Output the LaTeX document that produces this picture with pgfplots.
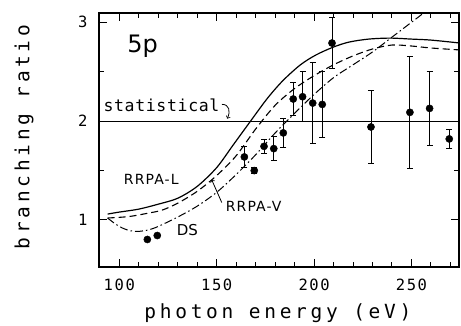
\documentclass[border=0pt]{standalone}
\usepackage{fontspec}
\setmainfont{DejaVu Sans}
\newfontfamily\lblfont[LetterSpace=19]{DejaVu Sans Mono}
\newfontfamily\tickfont[LetterSpace=10]{DejaVu Sans Mono}
\newfontfamily\statfont[LetterSpace=4]{DejaVu Sans Mono}
\newfontfamily\annfont[LetterSpace=8]{DejaVu Sans}
\usepackage{pgfplots}
\pgfplotsset{compat=1.18}
\begin{document}
\begin{tikzpicture}[x=1pt,y=1pt]
\path[use as bounding box] (0,0) rectangle (461,325);
\begin{axis}[
 at={(99pt,58pt)}, anchor=south west,
 scale only axis, width=360pt, height=254pt,
 xmin=89.58, xmax=274.4, ymin=0.5245, ymax=3.094,
 xtick={100,150,200,250}, minor xtick={90,100,...,270},
 ytick={1,2,3}, minor ytick={1.5,2.5},
 tick align=inside, major tick length=8pt, minor tick length=5pt,
 xtick pos=both, ytick pos=both,
 axis line style={line width=1.1pt},
 tick style={line width=1pt, black},
 /pgf/number format/assume math mode=true,
 ticklabel style={font=\tickfont\fontsize{15.5}{16}\selectfont},
 xticklabel style={yshift=-8pt},
 yticklabel style={xshift=-8pt},
 xlabel={photon energy (eV)}, ylabel={branching ratio},
 label style={font=\lblfont\fontsize{19.5}{20}\selectfont},
 xlabel style={at={(axis description cs:0.497,-0.181)}, anchor=center},
 ylabel style={at={(axis description cs:-0.208,0.512)}, anchor=center},
]
% statistical line
\addplot[black, line width=0.7pt] coordinates {(89.58,2) (274.4,2)};
% RRPA-L (solid)
\addplot[black, line width=1.2pt, smooth, tension=0.5] coordinates {
(94,1.06) (100,1.08) (110,1.11) (120,1.16) (130,1.22) (140,1.34) (150,1.53)
(158.5,1.76) (167,1.99) (176,2.23) (184,2.41) (193,2.57) (201,2.67) (210,2.75)
(218,2.80) (228,2.83) (239,2.84) (250,2.83) (260,2.82) (275,2.79)};
% RRPA-V (dashed)
\addplot[black, line width=1.1pt, smooth, tension=0.5, dash pattern=on 7pt off 4pt] coordinates {
(94,1.02) (105,1.035) (115,1.07) (122,1.10) (130,1.17) (140,1.29) (150,1.45)
(160,1.65) (170,1.92) (180,2.16) (190,2.33) (200,2.46) (210,2.57) (220,2.66)
(230,2.73) (240,2.77) (250,2.76) (260,2.74) (275,2.72)};
% DS (dash-dot)
\addplot[black, line width=1.0pt, smooth, tension=0.5, dash pattern=on 8pt off 3pt on 1.5pt off 3pt] coordinates {
(94,1.02) (98,0.96) (102,0.915) (106,0.89) (110,0.885) (115,0.90) (120,0.935)
(130,1.03) (140,1.14) (150,1.28) (160,1.46) (170,1.66) (180,1.88) (190,2.08)
(200,2.27) (210,2.44) (220,2.57) (230,2.70) (240,2.85) (250,3.0) (262,3.18)};
% experimental data
\addplot[black, only marks, mark=*, mark size=3.6pt,
 error bars/.cd, y dir=both, y explicit,
 error bar style={line width=0.9pt},
 error mark options={rotate=90, mark size=3pt, line width=0.9pt}]
coordinates {
(114.4,0.803) +- (0,0)
(119.5,0.843) +- (0,0)
(164.2,1.638) +- (0,0.11)
(169.3,1.500) +- (0,0.03)
(174.3,1.745) +- (0,0.07)
(179.3,1.722) +- (0,0.12)
(184.2,1.881) +- (0,0.15)
(189.3,2.224) +- (0,0.165)
(194.1,2.247) +- (0,0.255)
(199.3,2.183) +- (0,0.41)
(204.2,2.169) +- (0,0.335)
(209.2,2.790) +- (0,0.26)
(229.2,1.941) +- (0,0.37)
(249.2,2.089) +- (0,0.565)
(259.3,2.129) +- (0,0.37)
(269.4,1.820) +- (0,0.10)
};
% annotations
\node[anchor=base west, inner sep=0, font=\fontsize{24}{24}\selectfont] at (axis cs:104.1,2.699) {5p};
\node[anchor=base west, inner sep=0, font=\statfont\fontsize{16.5}{17}\selectfont] at (axis cs:91.8,2.099) {statistical};
\draw[->, line width=0.8pt] (axis cs:152.7,2.17) .. controls (axis cs:156.5,2.17) and (axis cs:157.2,2.1) .. (axis cs:155.4,2.025);
\node[anchor=base west, inner sep=0, font=\annfont\fontsize{14}{14}\selectfont] at (axis cs:102.3,1.359) {RRPA-L};
\node[anchor=base west, inner sep=0, font=\annfont\fontsize{14}{14}\selectfont] at (axis cs:154.6,1.086) {RRPA-V};
\draw[->, line width=0.8pt] (axis cs:152.6,1.177) -- (axis cs:147.4,1.409);
\node[anchor=base west, inner sep=0, font=\fontsize{15}{15}\selectfont] at (axis cs:129.4,0.843) {DS};
\end{axis}
\end{tikzpicture}
\end{document}
